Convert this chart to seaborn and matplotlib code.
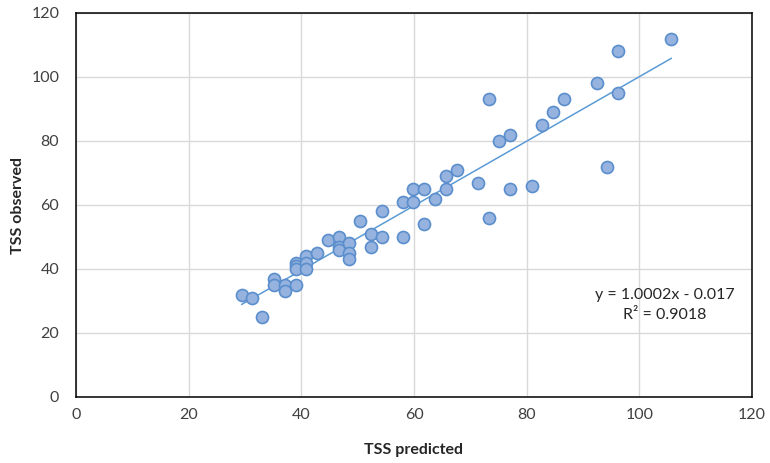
"""
Scatter of predicted vs observed TSS with a linear trendline.
"""

import numpy as np
import matplotlib
matplotlib.use("Agg")
import matplotlib.pyplot as plt
import seaborn as sns

tss_predicted = [29.4, 31.3, 33.1, 35.1, 35.1, 37.1, 37.1, 39.0, 39.0, 39.0,
                 39.0, 40.9, 40.9, 40.9, 42.8, 44.7, 46.6, 46.6, 46.6, 48.5,
                 48.5, 48.5, 50.4, 52.3, 52.3, 54.3, 54.3, 58.0, 58.0, 59.9,
                 59.9, 61.8, 61.8, 63.7, 65.7, 65.7, 67.6, 71.4, 73.3, 73.3,
                 75.1, 77.0, 77.0, 81.0, 82.8, 84.7, 86.6, 92.4, 94.3, 96.2,
                 96.2, 105.7]
tss_observed = [32, 31, 25, 37, 35, 35, 33, 35, 42, 41,
                40, 44, 42, 40, 45, 49, 50, 47, 46, 48,
                45, 43, 55, 51, 47, 58, 50, 61, 50, 65,
                61, 65, 54, 62, 69, 65, 71, 67, 93, 56,
                80, 82, 65, 66, 85, 89, 93, 98, 72, 108,
                95, 112]
x_ticks = [0, 20, 40, 60, 80, 100, 120]
y_ticks = [0, 20, 40, 60, 80, 100, 120]
eq_text = "y = 1.0002x - 0.017"
r2_text = "R² = 0.9018"


def main():
    sns.set_style("white")
    plt.rcParams['font.family'] = ['Lato', 'DejaVu Sans']

    fig = plt.figure(figsize=(7.7, 4.63), dpi=100)
    ax = fig.add_axes([76 / 770, 66 / 463, 676 / 770, 384 / 463])

    ax.grid(True, color='#d9d9d9', linewidth=1)
    ax.set_axisbelow(True)

    sns.regplot(x=tss_predicted, y=tss_observed, scatter=False, ci=None,
                truncate=True, color='#5b9bd5', line_kws={'linewidth': 1.1},
                ax=ax)
    sns.scatterplot(x=tss_predicted, y=tss_observed, s=75,
                    color='#95b3de', edgecolor='#5b8ecc', linewidth=1.2,
                    zorder=3, ax=ax)

    ax.set_xlim(0, 120)
    ax.set_ylim(0, 120)
    ax.set_xticks(x_ticks)
    ax.set_yticks(y_ticks)
    ax.tick_params(axis='both', length=0, labelsize=11.5, colors='#404040')
    ax.tick_params(axis='y', pad=12)
    ax.tick_params(axis='x', pad=8)

    for side in ['left', 'bottom', 'top', 'right']:
        ax.spines[side].set_visible(True)
        ax.spines[side].set_color('#000000')
        ax.spines[side].set_linewidth(1.1)

    ax.set_xlabel('TSS predicted', fontsize=11.5, fontweight='bold',
                  color='#262626')
    ax.set_ylabel('TSS observed', fontsize=11.5, fontweight='bold',
                  color='#262626')
    ax.xaxis.set_label_coords(0.5, -0.138)
    ax.yaxis.set_label_coords(-0.086, 0.5)
    ax.xaxis.label.set_va('center')
    ax.yaxis.label.set_va('center')

    ax.text(0.871, 0.266, eq_text, transform=ax.transAxes, ha='center',
            va='center', fontsize=11.5, color='#262626')
    ax.text(0.871, 0.214, r2_text, transform=ax.transAxes, ha='center',
            va='center', fontsize=11.5, color='#262626')

    fig.savefig('out.png', dpi=100)


if __name__ == "__main__":
    main()
